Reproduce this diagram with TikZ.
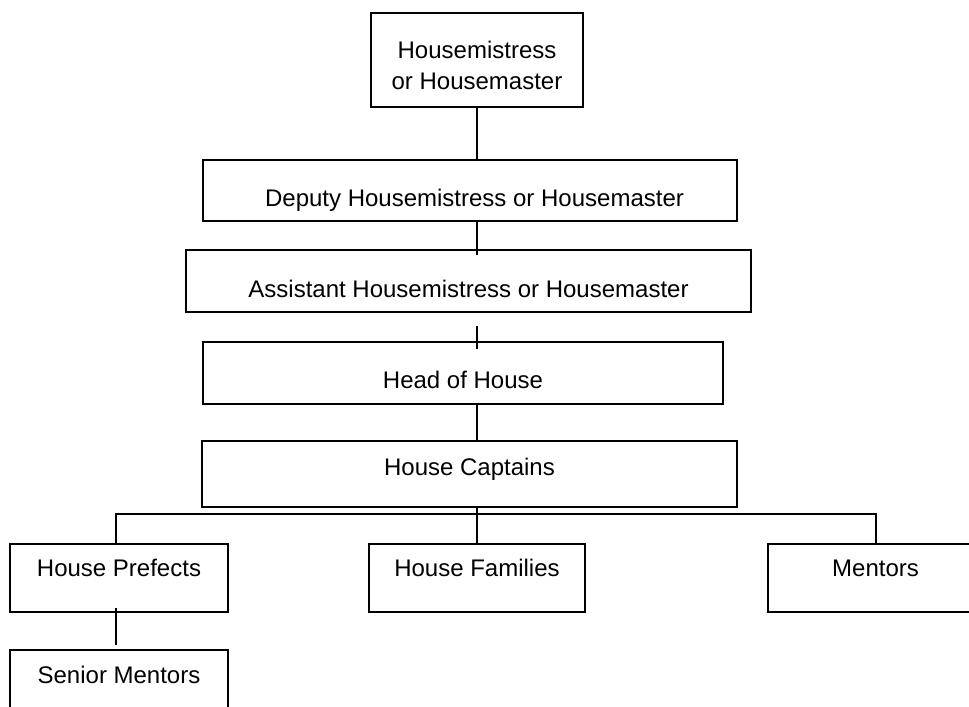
\documentclass[tikz,border=0pt]{standalone}
\usepackage{fontspec}
\setmainfont{Liberation Sans}
\usetikzlibrary{calc}
\newdimen\px \px=0.75pt
\newcommand\tx[3]{\raisebox{-#2\px}[0pt][0pt]{\makebox[0pt]{\hspace*{#1\px}\hspace*{#1\px}#3}}}
\begin{document}
\begin{tikzpicture}[x=0.75pt,y=-0.75pt,
  box/.style={draw, line width=1.5pt, rectangle, inner sep=0pt,
    font=\fontsize{18pt}{23.25pt}\selectfont},
  link/.style={line width=1.5pt}]
\clip (0,0) rectangle (969,706);
\fill[white] (0,0) rectangle (969,706);
\node[box, minimum width=159pt, minimum height=70.5pt] (top) at (477,60)
  {\tx{0}{30}{\begin{tabular}[b]{@{}c@{}}Housemistress\\or Housemaster\end{tabular}}};
\node[box, minimum width=400.5pt, minimum height=45.75pt] (deputy) at (470,190.5)
  {\tx{4.5}{16}{Deputy Housemistress or Housemaster}};
\node[box, minimum width=423.75pt, minimum height=46.5pt] (assistant) at (468.5,281)
  {\tx{0}{16}{Assistant Housemistress or Housemaster}};
\node[box, minimum width=390pt, minimum height=46.5pt] (head) at (463,373)
  {\tx{0}{15.5}{Head of House}};
\node[box, minimum width=401.25pt, minimum height=49.5pt] (captains) at (469.5,474)
  {\tx{0}{1}{House Captains}};
\node[box, minimum width=163.5pt, minimum height=51pt] (prefects) at (119,578)
  {\tx{0}{-2}{House Prefects}};
\node[box, minimum width=162pt, minimum height=51pt] (families) at (477,578)
  {\tx{0}{-2}{House Families}};
\node[box, minimum width=163.5pt, minimum height=51pt] (mentors) at (877,578)
  {\tx{-1.5}{-2}{Mentors}};
\node[box, minimum width=163.5pt, minimum height=51pt] (senior) at (119,684)
  {\tx{0}{-1}{Senior Mentors}};
\coordinate (bus) at ($(captains.south)+(0,6)$);
\draw[link] (top.south) -- (top.south |- deputy.north);
\draw[link] (top.south |- deputy.south) -- ($(top.south |- assistant.north)+(0,6)$);
\draw[link] ($(top.south |- assistant.south)+(0,13)$) -- ($(top.south |- head.north)+(0,8)$);
\draw[link] (top.south |- head.south) -- (top.south |- captains.north);
\draw[link] (families.north |- captains.south) -- (families.north);
\draw[link] ($(prefects.north)+(-3,0)$) -- ($(prefects.north |- bus)+(-3,0)$)
  -- ($(mentors.north |- bus)+(-1,0)$) -- ($(mentors.north)+(-1,0)$);
\draw[link] ($(prefects.south)+(-3,-5)$) -- ($(senior.north)+(-3,-4)$);
\end{tikzpicture}
\end{document}
